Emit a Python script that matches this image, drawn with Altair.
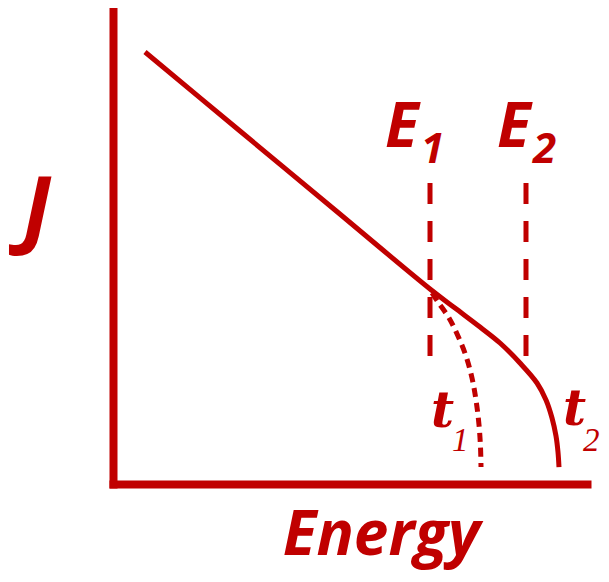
import altair as alt
import pandas as pd

RED = "#C00000"

# Main curve (t2): Energy vs J, in 0-100 units
solid_x = [6.75, 26.79, 46.84, 66.88, 72.15, 77.43, 81.65, 85.86, 89.45, 91.35, 92.62, 93.46, 93.88, 94.09]
solid_y = [90.76, 74.16, 57.56, 40.97, 36.97, 32.98, 29.62, 25.42, 21.22, 17.65, 13.87, 10.08, 6.72, 3.57]

# Dotted curve (t1)
dot_x = [67.30, 68.57, 70.89, 72.78, 74.47, 75.74, 76.58, 77.22, 77.53, 77.64]
dot_y = [40.13, 38.24, 34.87, 31.09, 26.89, 22.27, 17.65, 12.39, 7.77, 3.57]

# Dashed vertical markers E1, E2
mark_x = [66.88, 87.13]
mark_top = [63.24, 63.24]
mark_bot = [26.89, 26.89]

# Labels
e_text = ["E", "E"]
e_x = [57.38, 81.01]
e_y = [70.80, 70.80]
esub_text = ["1", "2"]
esub_x = [64.98, 88.61]
esub_y = [67.44, 67.44]
t_text = ["t", "t"]
t_x = [67.09, 94.94]
t_y = [11.97, 12.39]
tsub_text = ["1", "2"]
tsub_x = [71.52, 99.16]
tsub_y = [6.93, 6.93]

solid = pd.DataFrame({"x": solid_x, "y": solid_y})
dotted = pd.DataFrame({"x": dot_x, "y": dot_y})
marks = pd.DataFrame({"x": mark_x, "y": mark_top, "y2": mark_bot})
e_df = pd.DataFrame({"x": e_x, "y": e_y, "t": e_text})
esub_df = pd.DataFrame({"x": esub_x, "y": esub_y, "t": esub_text})
t_df = pd.DataFrame({"x": t_x, "y": t_y, "t": t_text})
tsub_df = pd.DataFrame({"x": tsub_x, "y": tsub_y, "t": tsub_text})

xs = alt.Scale(domain=[0, 100], nice=False, zero=False)
ys = alt.Scale(domain=[0, 100], nice=False, zero=False)

SANS = "Open Sans"
SERIF = "Liberation Serif"

xaxis = alt.Axis(
    title="Energy", ticks=False, labels=False, grid=False,
    domainColor=RED, domainWidth=8, domainCap="square",
    titleFont=SANS, titleFontSize=62, titleFontStyle="italic", titleFontWeight="bold",
    titleColor=RED, titleX=268, titleY=70, titleAlign="center", titleBaseline="alphabetic",
)
yaxis = alt.Axis(
    title="J", ticks=False, labels=False, grid=False,
    domainColor=RED, domainWidth=8, domainCap="square",
    titleFont=SANS, titleFontSize=86, titleFontStyle="italic", titleFontWeight="bold",
    titleColor=RED, titleAngle=0, titleX=-91, titleY=229, titleAlign="left",
    titleBaseline="alphabetic",
)

X = alt.X("x:Q", scale=xs, axis=xaxis)
Y = alt.Y("y:Q", scale=ys, axis=yaxis)

line_solid = alt.Chart(solid).mark_line(color=RED, strokeWidth=5, interpolate="catmull-rom").encode(x=X, y=Y)
line_dot = alt.Chart(dotted).mark_line(color=RED, strokeWidth=5, strokeDash=[9, 6], interpolate="catmull-rom").encode(x=X, y=Y)
rules = alt.Chart(marks).mark_rule(color=RED, strokeWidth=5, strokeDash=[21, 17]).encode(x=X, y=Y, y2="y2:Q")

e_lab = alt.Chart(e_df).mark_text(
    color=RED, font=SANS, fontSize=62, fontStyle="italic", fontWeight="bold",
    align="left", baseline="alphabetic",
).encode(x=X, y=Y, text="t:N")
esub_lab = alt.Chart(esub_df).mark_text(
    color=RED, font=SANS, fontSize=42, fontStyle="italic", fontWeight="bold",
    align="left", baseline="alphabetic",
).encode(x=X, y=Y, text="t:N")
t_lab = alt.Chart(t_df).mark_text(
    color=RED, font="DejaVu Serif", fontSize=50, fontStyle="italic", fontWeight="bold",
    align="left", baseline="alphabetic",
).encode(x=X, y=Y, text="t:N")
tsub_lab = alt.Chart(tsub_df).mark_text(
    color=RED, font=SERIF, fontSize=33, fontStyle="italic",
    align="left", baseline="alphabetic",
).encode(x=X, y=Y, text="t:N")

chart = alt.layer(line_solid, line_dot, rules, e_lab, esub_lab, t_lab, tsub_lab).properties(
    width=474, height=476,
    autosize=alt.AutoSizeParams(type="none"),
    padding={"left": 105, "top": 0, "right": 14, "bottom": 90},
).configure_view(strokeWidth=0)

chart.save("out.html", embed_options={"renderer": "svg", "actions": False})
